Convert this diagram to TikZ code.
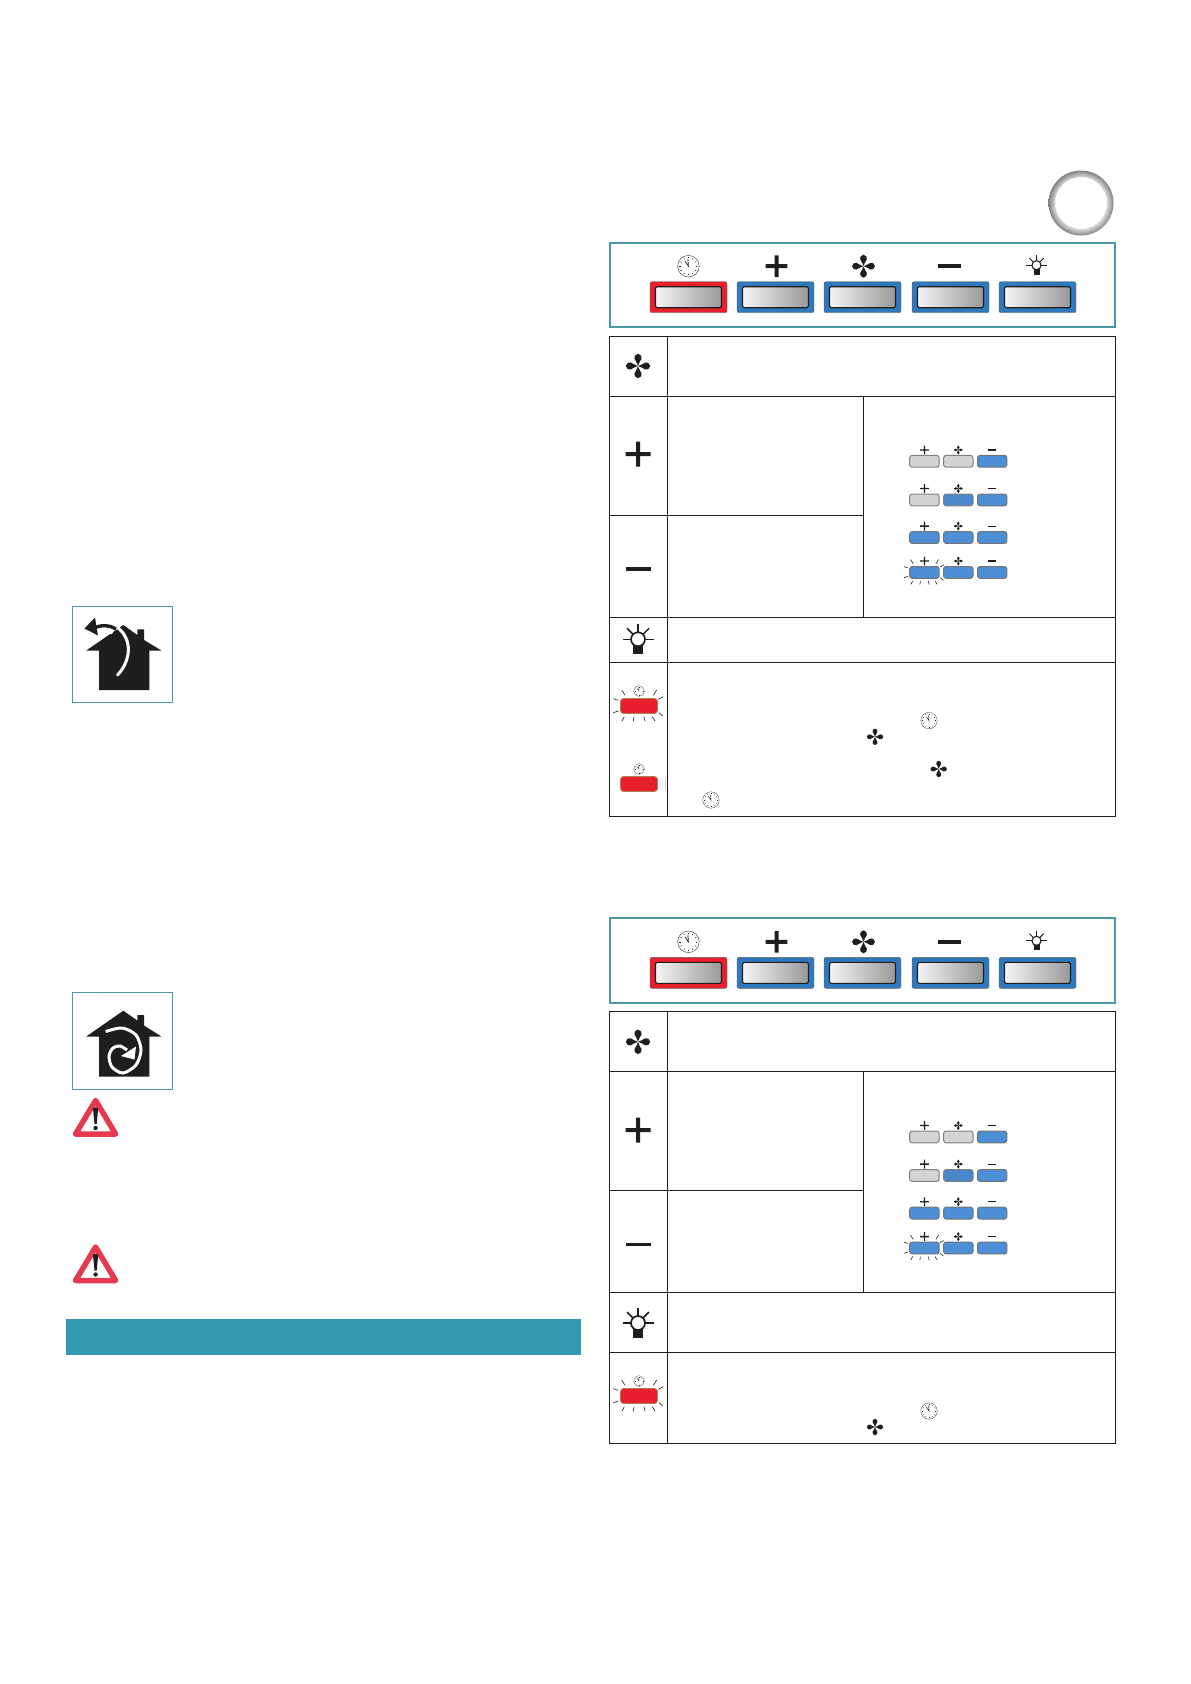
\documentclass[tikz,border=0pt]{standalone}
\usepackage{tikz}
\usetikzlibrary{calc}
\definecolor{tealline}{HTML}{4A97A8}
\definecolor{tealbar}{HTML}{3399B0}
\definecolor{btnred}{HTML}{E8202E}
\definecolor{btnblue}{HTML}{2F78BC}
\definecolor{miniblue}{HTML}{4C8FD6}
\definecolor{minigrey}{HTML}{D4D4D2}
\definecolor{warnred}{HTML}{E6394F}
\definecolor{inkblack}{HTML}{1E1E1E}
\pgfdeclareradialshading{ringshade}{\pgfpoint{0bp}{0bp}}{color(0bp)=(white); color(16bp)=(gray!15); color(20bp)=(gray!30); color(23bp)=(gray!70); color(25bp)=(gray!100); color(50bp)=(gray!100)}
\tikzset{
  tealbox/.style={draw=tealline, line width=1pt},
  panelbox/.style={draw=tealline, line width=1.8pt},
  cellline/.style={draw=inkblack, line width=1pt},
  house/.style={fill=inkblack, draw=none},
  rayline/.style={draw=inkblack, line width=0.6pt},
}
% icons: x, y, scale
\newcommand{\fanicon}[3]{\begin{scope}[shift={(#1,#2)},scale=#3]
  \foreach \a in {0,90,180,270}
    \fill[inkblack,rotate=\a] (0,0) .. controls (2.5,-0.5) and (4.5,-2) .. (7.5,-3.6) .. controls (9,-4.3) and (12.5,-3) .. (12.5,0) .. controls (12.5,3) and (9,4.3) .. (7.5,3.6) .. controls (4.5,2) and (2.5,0.5) .. (0,0);
  \fill[white] (0,0) circle (0.6);
\end{scope}}
\newcommand{\clockicon}[3]{\begin{scope}[shift={(#1,#2)},scale=#3]
  \draw[inkblack,line width=#3*0.35pt,fill=white] (0,0) circle (10.8);
  \foreach \a in {0,30,...,330}
    \draw[inkblack,line width=#3*0.6pt] (\a:7.8) -- (\a:9);
  \draw[inkblack,line width=#3*0.7pt] (-3.5,-5) -- (0,0) -- (-0.5,-7);
\end{scope}}
\newcommand{\lampicon}[3]{\begin{scope}[shift={(#1,#2)},scale=#3]
  \foreach \a in {0,180,225,270,315}
    \draw[inkblack,line width=#3*1.5pt] (\a:7) -- (\a:15.5);
  \fill[inkblack] (-4.6,4) rectangle (4.6,14.5);
  \draw[inkblack,line width=#3*1.7pt,fill=white] (0,0) circle (7);
\end{scope}}
\newcommand{\plusicon}[4]{\fill[inkblack] (#1-#3,#2-#4/2) rectangle (#1+#3,#2+#4/2) (#1-#4/2,#2-#3) rectangle (#1+#4/2,#2+#3);}
\newcommand{\minusicon}[4]{\fill[inkblack] (#1-#3,#2-#4/2) rectangle (#1+#3,#2+#4/2);}
% panel button: left x, top y, frame colour
\newcommand{\panelbutton}[3]{
  \fill[#3,draw=inkblack!70,line width=0.4pt,rounded corners=2pt] (#1,#2) rectangle (#1+77,#2+31);
  \shade[left color=white!92!gray,right color=gray!80,rounded corners=1.5pt] (#1+5.5,#2+5) rectangle (#1+71.5,#2+26);
  \draw[inkblack,line width=1.1pt,rounded corners=1.5pt] (#1+5.5,#2+5) rectangle (#1+71.5,#2+26);
}
% mini button: left x, top y, fill, edge
\newcommand{\minibutton}[4]{
  \draw[fill=#3,draw=#4,line width=1pt,rounded corners=2.5pt] (#1,#2) rectangle (#1+29.4,#2+11.8);
}
\newcommand{\flashrays}[3]{\begin{scope}[shift={(#1,#2)},scale=#3]
  \draw[rayline] (-17.3,-16) -- (-14,-10.7) (17.7,-16) -- (14.3,-10.7)
    (-25.7,-7.3) -- (-20.7,-5.7) (-25.7,6.7) -- (-20.7,5)
    (24.3,-9.3) -- (19.3,-6.7) (23.7,10) -- (20,6.7)
    (-17,15) -- (-14.7,10.7) (-5.7,15.3) -- (-5,10.7)
    (6,15.3) -- (5,10.7) (16,15) -- (13.3,10.7);
\end{scope}}
\newcommand{\redbutton}[2]{
  \draw[fill=btnred,draw=brown!75!gray,line width=0.7pt,rounded corners=3pt] (#1-18.5,#2-7.5) rectangle (#1+18.5,#2+7.5);
}
% the four rows of small buttons, y of the first row top
\newcommand{\minirows}[1]{
  \foreach \ty/\ca/\ea/\cb/\eb in {0/minigrey/gray/minigrey/gray,
      38.6/minigrey/gray/miniblue!95!black/gray,
      76.2/miniblue/gray!90!black/miniblue/gray!90!black,
      111.1/miniblue/gray!90!black/miniblue/gray!90!black}{
    \minibutton{909.7}{#1+\ty}{\ca}{\ea}
    \minibutton{943.6}{#1+\ty}{\cb}{\eb}
    \minibutton{977.5}{#1+\ty}{miniblue}{gray!90!black}
    \plusicon{924.4}{#1+\ty-5.5}{4.4}{1.3}
    \fanicon{958.3}{#1+\ty-5.5}{0.36}
    \minusicon{992.2}{#1+\ty-5.5}{4.2}{1.2}
  }
  \flashrays{924.4}{#1+117}{0.8}
}
\newcommand{\controlpanel}[1]{
  \draw[panelbox] (610,#1) rectangle (1115.3,#1+84.5);
  \panelbutton{650}{#1+39}{btnred}
  \panelbutton{737}{#1+39}{btnblue}
  \panelbutton{824}{#1+39}{btnblue}
  \panelbutton{912}{#1+39}{btnblue}
  \panelbutton{999}{#1+39}{btnblue}
  \clockicon{688.4}{#1+23.5}{1}
  \plusicon{776.5}{#1+23.5}{10.8}{4}
  \fanicon{863.5}{#1+23.5}{0.92}
  \minusicon{949}{#1+23.5}{11.5}{4}
  \lampicon{1036.5}{#1+22.5}{0.65}
}
\newcommand{\warnsign}[2]{
  \draw[warnred,line width=5.5pt,line join=round,fill=white] (#1,#2+5.5) -- (#1+20,#2+39) -- (#1-20,#2+39) -- cycle;
  \fill[inkblack] (#1-2.6,#2+13.5) .. controls (#1-2.4,#2+12) and (#1+2.4,#2+12) .. (#1+2.6,#2+13.5) -- (#1+1.1,#2+29) -- (#1-1.1,#2+29) -- cycle;
  \fill[inkblack] (#1,#2+33) circle (2.2);
}
\begin{document}
\begin{tikzpicture}[x=1pt,y=-1pt]
  \useasboundingbox (0,0) rectangle (1191,1684);
  \fill[white] (0,0) rectangle (1191,1684);

  % grey ring top right
  \shade[shading=ringshade,even odd rule] (1081,203) circle (32.5) (1081,203) circle (26);

  % first panel and table
  \controlpanel{242.7}
  \draw[cellline] (609.3,336.7) rectangle (1115.3,816.2);
  \draw[cellline] (667.5,336.7) -- (667.5,816.2);
  \draw[cellline] (609.3,396.3) -- (1115.3,396.3);
  \draw[cellline] (609.3,515.5) -- (863.5,515.5);
  \draw[cellline] (609.3,617) -- (1115.3,617);
  \draw[cellline] (609.3,662) -- (1115.3,662);
  \draw[cellline] (863.5,396.3) -- (863.5,617);
  \fanicon{638}{366}{0.98}
  \plusicon{638}{454}{12.5}{4}
  \minusicon{638}{569}{12.5}{3.8}
  \lampicon{638}{639.3}{1}
  \minirows{455.4}
  \clockicon{639}{691}{0.5}
  \redbutton{639}{706}
  \flashrays{639}{706}{1}
  \clockicon{639}{769}{0.5}
  \redbutton{639}{784}
  \draw[gray!40,line width=0.5pt] (665.5,778) -- (665.5,790);
  \clockicon{929}{720.6}{0.76}
  \fanicon{875}{736.8}{0.66}
  \fanicon{938.7}{769}{0.66}
  \clockicon{711}{800}{0.76}

  % second panel and table
  \controlpanel{918.3}
  \draw[cellline] (609.3,1011.7) rectangle (1115.3,1443.4);
  \draw[cellline] (667.5,1011.7) -- (667.5,1443.4);
  \draw[cellline] (609.3,1071.3) -- (1115.3,1071.3);
  \draw[cellline] (609.3,1190.5) -- (863.5,1190.5);
  \draw[cellline] (609.3,1292) -- (1115.3,1292);
  \draw[cellline] (609.3,1352) -- (1115.3,1352);
  \draw[cellline] (863.5,1071.3) -- (863.5,1292);
  \fanicon{638}{1041.8}{0.98}
  \plusicon{638}{1130}{12.5}{4}
  \minusicon{638}{1244.5}{12.5}{3.8}
  \lampicon{638}{1323}{1}
  \minirows{1131}
  \clockicon{639}{1381}{0.5}
  \redbutton{639}{1396}
  \flashrays{639}{1396}{1}
  \clockicon{929}{1411}{0.76}
  \fanicon{875}{1427}{0.66}

  % house with the air going out
  \draw[tealbox] (72.7,606.7) rectangle (172.7,702.7);
  \fill[house] (123.3,625) -- (137.3,635) -- (137.3,629.3) -- (144,629.3) -- (144,640) -- (161.7,650.7) -- (149.3,650.7) -- (149.3,690) -- (99,690) -- (99,650.7) -- (86,650.7) -- cycle;
  \draw[white,line width=3pt,line cap=round] (117.5,675) .. controls (130,662) and (134,640) .. (117,627);
  \draw[white,line width=5pt] (113,632) .. controls (106,628) and (100,630) .. (96,633);
  \draw[inkblack,line width=3.4pt] (116,629) .. controls (110,625) and (102,624.5) .. (94,628);
  \fill[inkblack] (84.5,628.5) -- (95,617.5) -- (98,635.5) -- cycle;

  % house with the air going round
  \draw[tealbox] (72.7,992.3) rectangle (172.7,1089.3);
  \fill[house] (123.3,1010.7) -- (137.3,1020.5) -- (137.3,1015) -- (144,1015) -- (144,1025.5) -- (161.7,1036.7) -- (149.3,1036.7) -- (149.3,1076.7) -- (99,1076.7) -- (99,1036.7) -- (86,1036.7) -- cycle;
  \draw[white,line width=3pt] plot[smooth] coordinates {(105.7,1031.5) (122,1028) (136,1035) (141,1050) (136,1065) (123,1073) (112,1067) (109,1056) (113,1048) (120,1046) (127,1050)};
  \fill[white] (134.5,1059.5) -- (136,1046.5) -- (121,1056) -- cycle;

  \warnsign{95.6}{1095}
  \warnsign{95.6}{1241.5}

  % teal bar
  \fill[tealbar] (65.5,1319) rectangle (581,1355);
\end{tikzpicture}
\end{document}
